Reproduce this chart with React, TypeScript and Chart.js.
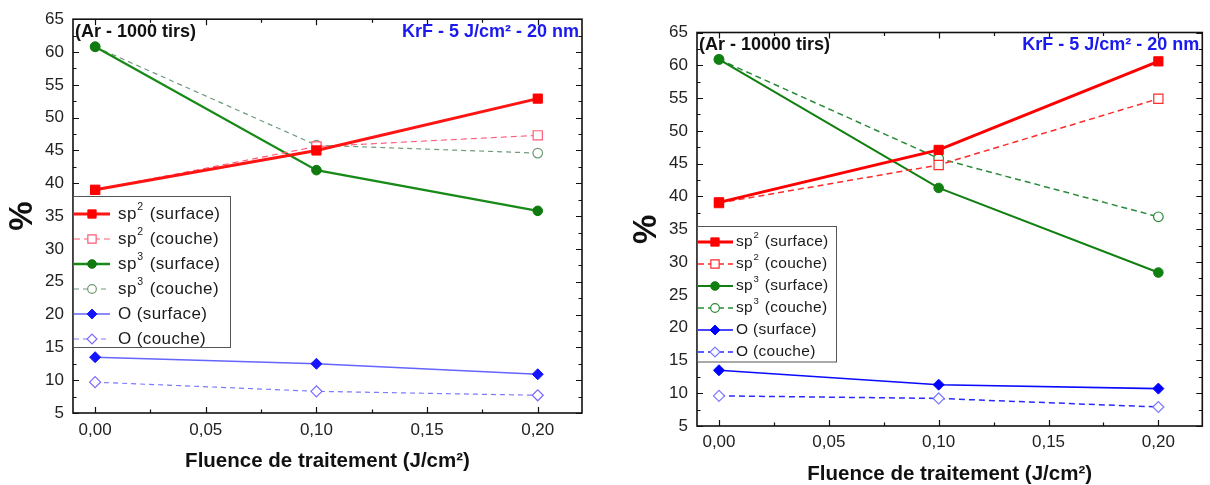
import React, { useEffect, useRef } from "react";
import { Chart, registerables } from "chart.js";
Chart.register(...registerables);

// ---------- data ----------
const fluence = [0, 0.1, 0.2];
const xTickValues = [0, 0.05, 0.1, 0.15, 0.2];
const seriesLabels = [
  "sp^2 (surface)",
  "sp^2 (couche)",
  "sp^3 (surface)",
  "sp^3 (couche)",
  "O (surface)",
  "O (couche)",
];

// Ar - 1000 tirs
const sp2Surface1000 = [39.0, 45.0, 52.9];
const sp2Couche1000 = [39.0, 45.6, 47.3];
const sp3Surface1000 = [60.8, 42.0, 35.8];
const sp3Couche1000 = [60.8, 45.8, 44.6];
const oSurface1000 = [13.5, 12.5, 10.9];
const oCouche1000 = [9.7, 8.3, 7.7];

// Ar - 10000 tirs
const sp2Surface10000 = [39.1, 47.1, 60.6];
const sp2Couche10000 = [39.0, 44.8, 54.9];
const sp3Surface10000 = [60.9, 41.3, 28.4];
const sp3Couche10000 = [60.9, 45.8, 36.9];
const oSurface10000 = [13.5, 11.3, 10.7];
const oCouche10000 = [9.6, 9.2, 7.9];

const titleLeft = "(Ar - 1000 tirs)";
const titleRight = "(Ar - 10000 tirs)";
const conditionsText = "KrF - 5 J/cm² - 20 nm";
const xAxisTitle = "Fluence de traitement (J/cm²)";
const yAxisTitle = "%";

const FONT = "'Liberation Sans', Arial, Helvetica, sans-serif";

type Style = {
  color: string;
  point: string;
  width: number;
  dash: number[];
  hollow: boolean;
  radius: number;
  pointColor: string;
};

const stylesLeft: Style[] = [
  { color: "#ff1414", point: "rect", width: 3, dash: [], hollow: false, radius: 6.5, pointColor: "#ff0000" },
  { color: "#ff5a78", point: "rect", width: 1.2, dash: [6, 4], hollow: true, radius: 6.5, pointColor: "#ff5a78" },
  { color: "#188a18", point: "circle", width: 2.3, dash: [], hollow: false, radius: 4.8, pointColor: "#107a10" },
  { color: "#6f9a7c", point: "circle", width: 1.2, dash: [5, 4], hollow: true, radius: 4.8, pointColor: "#6f9a70" },
  { color: "#6464ff", point: "rectRot", width: 1.4, dash: [], hollow: false, radius: 5.5, pointColor: "#1414ff" },
  { color: "#7a7aff", point: "rectRot", width: 1.2, dash: [5, 4], hollow: true, radius: 5.5, pointColor: "#7a6aff" },
];

const stylesRight: Style[] = [
  { color: "#ff0000", point: "rect", width: 3, dash: [], hollow: false, radius: 6.5, pointColor: "#ff0000" },
  { color: "#ff2a2a", point: "rect", width: 1.5, dash: [6, 4], hollow: true, radius: 6.5, pointColor: "#ff2a2a" },
  { color: "#108010", point: "circle", width: 2, dash: [], hollow: false, radius: 4.8, pointColor: "#108010" },
  { color: "#2a8a3a", point: "circle", width: 1.5, dash: [6, 4], hollow: true, radius: 4.8, pointColor: "#2a8a3a" },
  { color: "#0a0aff", point: "rectRot", width: 1.6, dash: [], hollow: false, radius: 5.5, pointColor: "#0000ff" },
  { color: "#2a2aff", point: "rectRot", width: 1.5, dash: [6, 4], hollow: true, radius: 5.5, pointColor: "#7a7aff" },
];

type Panel = {
  canvasLeft: number;
  area: { left: number; right: number; top: number; bottom: number };
  xPad: number;
  title: string;
  series: number[][];
  styles: Style[];
  legend: {
    top: number; bottom: number; right: number;
    row0: number; gap: number;
    lineX1: number; markerX: number; textX: number;
    font: number; spacing: string;
  };
};

const W = 605;
const H = 485;

const panels: Panel[] = [
  {
    canvasLeft: 0,
    area: { left: 73, right: 582, top: 18, bottom: 413 },
    xPad: 7,
    title: titleLeft,
    series: [sp2Surface1000, sp2Couche1000, sp3Surface1000, sp3Couche1000, oSurface1000, oCouche1000],
    styles: stylesLeft,
    legend: { top: 196, bottom: 347, right: 230, row0: 214, gap: 25, lineX1: 110, markerX: 92, textX: 118, font: 17, spacing: "0.4px" },
  },
  {
    canvasLeft: 605,
    area: { left: 92, right: 599, top: 32.5, bottom: 426 },
    xPad: 6,
    title: titleRight,
    series: [sp2Surface10000, sp2Couche10000, sp3Surface10000, sp3Couche10000, oSurface10000, oCouche10000],
    styles: stylesRight,
    legend: { top: 226, bottom: 361.5, right: 231, row0: 242, gap: 22, lineX1: 128, markerX: 110, textX: 131, font: 15.5, spacing: "0.3px" },
  },
];

function drawMarker(ctx: CanvasRenderingContext2D, style: string, x: number, y: number, r: number, fill: string, stroke: string, lw: number) {
  ctx.beginPath();
  if (style === "rect") {
    const s = r * Math.SQRT1_2;
    ctx.rect(x - s, y - s, 2 * s, 2 * s);
  } else if (style === "circle") {
    ctx.arc(x, y, r, 0, Math.PI * 2);
  } else {
    ctx.moveTo(x, y - r);
    ctx.lineTo(x + r, y);
    ctx.lineTo(x, y + r);
    ctx.lineTo(x - r, y);
    ctx.closePath();
  }
  ctx.setLineDash([]);
  ctx.fillStyle = fill;
  ctx.fill();
  ctx.lineWidth = lw;
  ctx.strokeStyle = stroke;
  ctx.stroke();
}

function drawLabel(ctx: CanvasRenderingContext2D, label: string, x: number, y: number, size: number) {
  ctx.textBaseline = "middle";
  ctx.textAlign = "left";
  ctx.fillStyle = "#1a1a1a";
  const i = label.indexOf("^");
  ctx.font = `${size}px ${FONT}`;
  if (i < 0) {
    ctx.fillText(label, x, y);
    return;
  }
  const a = label.slice(0, i);
  const sup = label[i + 1];
  const rest = label.slice(i + 2);
  ctx.fillText(a, x, y);
  let w = ctx.measureText(a).width;
  ctx.font = `${size * 0.62}px ${FONT}`;
  ctx.fillText(sup, x + w + 0.5, y - size * 0.42);
  w += ctx.measureText(sup).width + 1.5;
  ctx.font = `${size}px ${FONT}`;
  ctx.fillText(rest, x + w, y);
}

function makeDecor(panel: Panel) {
  return {
    id: "decor",
    afterDatasetsDraw(chart: any) {
      const ctx: CanvasRenderingContext2D = chart.ctx;
      const a = chart.chartArea;
      const xs = chart.scales.x;
      const ys = chart.scales.y;
      ctx.save();
      // ticks on all four sides (inward)
      ctx.strokeStyle = "#111";
      ctx.lineWidth = 1.2;
      ctx.setLineDash([]);
      for (let k = 0; k <= 8; k++) {
        const v = k * 0.025;
        const len = k % 2 === 0 ? 6 : 3.5;
        const px = Math.round(xs.getPixelForValue(v)) + 0.5;
        ctx.beginPath();
        ctx.moveTo(px, a.bottom);
        ctx.lineTo(px, a.bottom - len);
        ctx.moveTo(px, a.top);
        ctx.lineTo(px, a.top + len);
        ctx.stroke();
      }
      for (let k = 0; k <= 24; k++) {
        const v = 5 + k * 2.5;
        const len = k % 2 === 0 ? 6 : 3.5;
        const py = Math.round(ys.getPixelForValue(v)) + 0.5;
        ctx.beginPath();
        ctx.moveTo(a.left, py);
        ctx.lineTo(a.left + len, py);
        ctx.moveTo(a.right, py);
        ctx.lineTo(a.right - len, py);
        ctx.stroke();
      }
      // frame
      ctx.lineWidth = 1.6;
      ctx.strokeRect(a.left, a.top, a.right - a.left, a.bottom - a.top);

      // legend
      const L = panel.legend;
      ctx.fillStyle = "#ffffff";
      ctx.fillRect(a.left + 1, L.top, L.right - a.left, L.bottom - L.top);
      ctx.strokeStyle = "#555";
      ctx.lineWidth = 1;
      ctx.strokeRect(a.left + 0.5, L.top + 0.5, L.right - a.left, L.bottom - L.top);
      (ctx as any).letterSpacing = L.spacing;
      chart.data.datasets.forEach((ds: any, i: number) => {
        const st = panel.styles[i];
        const y = L.row0 + i * L.gap;
        ctx.beginPath();
        ctx.setLineDash(st.dash);
        ctx.strokeStyle = st.color;
        ctx.lineWidth = st.width;
        ctx.moveTo(a.left + 1, y);
        ctx.lineTo(L.lineX1, y);
        ctx.stroke();
        drawMarker(ctx, st.point, L.markerX, y, st.radius * 0.9, st.hollow ? "#ffffff" : st.pointColor, st.pointColor, st.hollow ? 1.2 : 1);
        drawLabel(ctx, ds.label, L.textX, y, L.font);
      });
      (ctx as any).letterSpacing = "0px";

      // annotations
      ctx.setLineDash([]);
      ctx.textBaseline = "middle";
      ctx.font = `bold 18px ${FONT}`;
      ctx.fillStyle = "#111";
      ctx.textAlign = "left";
      ctx.fillText(panel.title, a.left + 2, a.top + 13);
      ctx.fillStyle = "#1a1aee";
      ctx.textAlign = "right";
      ctx.fillText(conditionsText, a.right - 3, a.top + 13);

      // axis titles
      ctx.fillStyle = "#111";
      ctx.textAlign = "center";
      ctx.font = `bold 20.5px ${FONT}`;
      ctx.fillText(xAxisTitle, (a.left + a.right) / 2, a.bottom + 48);
      ctx.save();
      ctx.translate(a.left - 50, (a.top + a.bottom) / 2);
      ctx.rotate(-Math.PI / 2);
      ctx.font = `bold 33px ${FONT}`;
      ctx.fillText(yAxisTitle, 0, 0);
      ctx.restore();

      ctx.restore();
    },
  };
}

function ChartPanel({ panel }: { panel: Panel }) {
  const ref = useRef<HTMLCanvasElement | null>(null);
  useEffect(() => {
    if (!ref.current) return;
    const A = panel.area;
    const datasets = panel.series.map((vals, i) => {
      const st = panel.styles[i];
      return {
        label: seriesLabels[i],
        data: fluence.map((x, j) => ({ x, y: vals[j] })),
        borderColor: st.color,
        borderWidth: st.width,
        borderDash: st.dash,
        pointStyle: st.point,
        pointRadius: st.radius,
        pointBorderColor: st.pointColor,
        pointBackgroundColor: st.hollow ? "#ffffff" : st.pointColor,
        pointBorderWidth: st.hollow ? 1.2 : 1,
        tension: 0,
        fill: false,
      };
    });
    const chart = new Chart(ref.current, {
      type: "line",
      data: { datasets },
      options: {
        animation: false,
        responsive: false,
        devicePixelRatio: 1,
        layout: { padding: { left: 0, right: W - A.right, top: A.top, bottom: 0 } },
        plugins: { legend: { display: false }, tooltip: { enabled: false }, title: { display: false } },
        scales: {
          x: {
            type: "linear",
            min: -0.01,
            max: 0.22,
            grid: { display: false, drawTicks: false },
            border: { display: false },
            afterBuildTicks: (s: any) => {
              s.ticks = xTickValues.map((v) => ({ value: v }));
            },
            afterFit: (s: any) => {
              s.height = H - A.bottom;
            },
            ticks: {
              autoSkip: false,
              maxRotation: 0,
              padding: panel.xPad,
              color: "#222",
              font: { family: FONT, size: 17 },
              callback: (v: any) => Number(v).toFixed(2).replace(".", ","),
            },
          },
          y: {
            type: "linear",
            min: 5,
            max: 65,
            grid: { display: false, drawTicks: false },
            border: { display: false },
            afterFit: (s: any) => {
              s.width = A.left;
            },
            ticks: {
              stepSize: 5,
              autoSkip: false,
              padding: 9,
              color: "#222",
              font: { family: FONT, size: 17 },
            },
          },
        },
      },
      plugins: [makeDecor(panel)],
    } as any);
    return () => chart.destroy();
  }, [panel]);
  return (
    <canvas
      ref={ref}
      width={W}
      height={H}
      style={{ position: "absolute", left: panel.canvasLeft, top: 0, width: W, height: H, display: "block" }}
    />
  );
}

export default function App() {
  return (
    <div style={{ position: "absolute", left: 0, top: 0, width: 1210, height: 485, background: "#ffffff" }}>
      {panels.map((p, i) => (
        <ChartPanel key={i} panel={p} />
      ))}
    </div>
  );
}
